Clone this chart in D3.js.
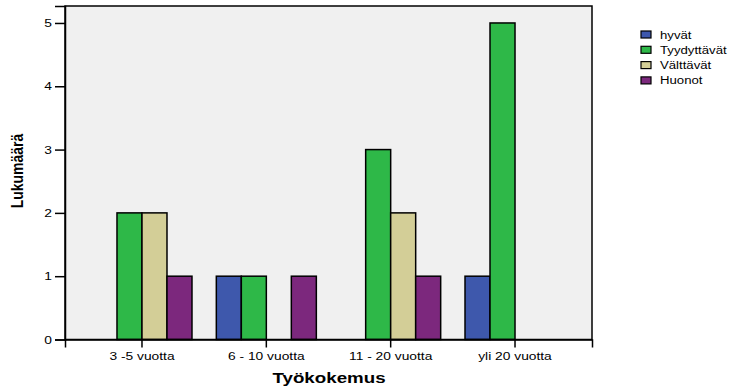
<!DOCTYPE html>
<html>
<head>
<meta charset="utf-8">
<script src="https://cdn.jsdelivr.net/npm/d3@7"></script>
<style>
  html, body { margin: 0; padding: 0; background: #ffffff; }
  svg { display: block; }
  text { font-family: "Liberation Sans", Arial, sans-serif; fill: #000; }
</style>
</head>
<body>
<svg id="chart" width="731" height="387"></svg>
<script>
// Work experience groups and rating counts
const categories = ["3 -5 vuotta", "6 - 10 vuotta", "11 - 20 vuotta", "yli 20 vuotta"];
const seriesNames = ["hyvät", "Tyydyttävät", "Välttävät", "Huonot"];
const hyvat       = [0, 1, 0, 1];
const tyydyttavat = [2, 1, 3, 5];
const valttavat   = [2, 0, 2, 0];
const huonot      = [1, 1, 1, 0];
const yTicks = [0, 1, 2, 3, 4, 5];
const colors = ["#3E58AC", "#2EB848", "#D3CE97", "#7C287D"];

const seriesValues = [hyvat, tyydyttavat, valttavat, huonot];
const rows = categories.map((c, i) => ({
  category: c,
  values: seriesNames.map((s, j) => ({ series: s, value: seriesValues[j][i] }))
}));

const svg = d3.select("#chart");
const plot = { left: 65, right: 592, top: 6, bottom: 339.5 };
const stretch = 1.2; // horizontal widening of label glyphs

const x0 = d3.scaleBand()
  .domain(categories)
  .range([plot.left, plot.right])
  .paddingInner(0.1957)
  .paddingOuter(0.217);

const x1 = d3.scaleBand()
  .domain(seriesNames)
  .range([0, x0.bandwidth()])
  .padding(0);

const y = d3.scaleLinear()
  .domain([0, 5.268])
  .range([plot.bottom, plot.top]);

const color = d3.scaleOrdinal().domain(seriesNames).range(colors);

// plot background
svg.append("rect")
  .attr("x", plot.left).attr("y", plot.top)
  .attr("width", plot.right - plot.left)
  .attr("height", plot.bottom - plot.top)
  .attr("fill", "#F0F0F0");

// bars
const groups = svg.append("g").selectAll("g")
  .data(rows)
  .join("g")
  .attr("transform", d => `translate(${x0(d.category)},0)`);

groups.selectAll("rect")
  .data(d => d.values.filter(v => v.value > 0))
  .join("rect")
  .attr("x", d => x1(d.series))
  .attr("y", d => y(d.value))
  .attr("width", x1.bandwidth())
  .attr("height", d => y(0) - y(d.value))
  .attr("fill", d => color(d.series))
  .attr("stroke", "#000")
  .attr("stroke-width", 1.5);

// frame
svg.append("rect")
  .attr("x", plot.left).attr("y", plot.top)
  .attr("width", plot.right - plot.left)
  .attr("height", plot.bottom - plot.top)
  .attr("fill", "none")
  .attr("stroke", "#000")
  .attr("stroke-width", 1.5);

// y axis
const yAxis = svg.append("g")
  .attr("transform", `translate(${plot.left},0)`)
  .call(d3.axisLeft(y).tickValues(yTicks).tickFormat(d3.format("d")).tickSize(10).tickPadding(3));
yAxis.select(".domain").attr("stroke", "#000").attr("stroke-width", 1.5);
yAxis.selectAll(".tick line").attr("stroke", "#000").attr("stroke-width", 1.5);
yAxis.selectAll(".tick text")
  .attr("font-size", 11.5)
  .attr("font-family", "Liberation Sans, Arial, sans-serif")
  .attr("x", -13 / stretch)
  .attr("transform", `scale(${stretch},1)`);

// x axis
const xAxis = svg.append("g")
  .attr("transform", `translate(0,${plot.bottom})`)
  .call(d3.axisBottom(x0).tickSize(8).tickPadding(4));
xAxis.select(".domain").attr("stroke", "#000").attr("stroke-width", 1.5);
xAxis.selectAll(".tick line").attr("stroke", "#000").attr("stroke-width", 1.5);
xAxis.selectAll(".tick text")
  .attr("font-size", 11.5)
  .attr("font-family", "Liberation Sans, Arial, sans-serif")
  .attr("transform", `scale(${stretch},1)`);

// axis titles
svg.append("text")
  .attr("transform", `translate(329,383) scale(1.25,1)`)
  .attr("text-anchor", "middle")
  .attr("font-size", 15)
  .attr("font-weight", "bold")
  .text("Työkokemus");

svg.append("text")
  .attr("transform", `translate(23,171) scale(1.15,1) rotate(-90)`)
  .attr("text-anchor", "middle")
  .attr("font-size", 14)
  .attr("font-weight", "bold")
  .text("Lukumäärä");

// legend
const legend = svg.append("g").attr("transform", "translate(641,34.5)");
const items = legend.selectAll("g")
  .data(seriesNames)
  .join("g")
  .attr("transform", (d, i) => `translate(0,${i * 15.3})`);
items.append("rect")
  .attr("x", 0).attr("y", -3.5)
  .attr("width", 10).attr("height", 7)
  .attr("fill", d => color(d))
  .attr("stroke", "#000")
  .attr("stroke-width", 1.2);
items.append("text")
  .attr("transform", `translate(19,4) scale(${stretch},1)`)
  .attr("font-size", 11)
  .text(d => d);
</script>
</body>
</html>
